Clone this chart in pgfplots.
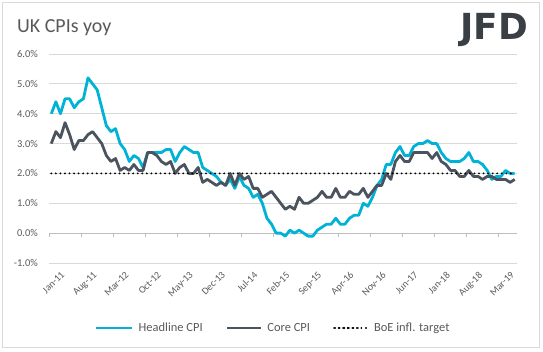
\documentclass[border=0pt]{standalone}
\usepackage{fontspec}
\setmainfont{Carlito}
\usepackage{pgfplots}
\pgfplotsset{compat=1.18}
\usepackage{pgfplotstable}
\definecolor{headc}{RGB}{0,178,214}
\definecolor{corec}{RGB}{74,83,94}
\definecolor{txt}{RGB}{89,89,89}
\definecolor{gridc}{RGB}{217,217,217}
\definecolor{logoc}{RGB}{58,63,70}
\pgfplotsset{
  legA/.style={legend image code/.code={\draw[##1] (0bp,0bp) -- (36bp,0bp);}},
  legB/.style={legend image code/.code={\draw[##1] (0bp,0bp) -- (34bp,0bp);}},
  legC/.style={legend image code/.code={\draw[##1] (1bp,0bp) -- (27bp,0bp); \path (0bp,0bp) -- (34bp,0bp);}},
}

\pgfplotstableread{
x h c
0 4.0 3.0
1 4.4 3.4
2 4.0 3.2
3 4.5 3.7
4 4.5 3.3
5 4.2 2.8
6 4.4 3.1
7 4.5 3.1
8 5.2 3.3
9 5.0 3.4
10 4.8 3.2
11 4.2 3.0
12 3.6 2.6
13 3.4 2.4
14 3.5 2.5
15 3.0 2.1
16 2.8 2.2
17 2.4 2.1
18 2.6 2.3
19 2.5 2.1
20 2.2 2.1
21 2.7 2.7
22 2.7 2.7
23 2.7 2.6
24 2.7 2.4
25 2.8 2.3
26 2.8 2.4
27 2.4 2.0
28 2.7 2.2
29 2.9 2.3
30 2.8 2.0
31 2.7 2.0
32 2.7 2.2
33 2.2 1.7
34 2.1 1.8
35 2.0 1.7
36 1.9 1.6
37 1.7 1.7
38 1.6 1.6
39 1.8 2.0
40 1.5 1.6
41 1.9 2.0
42 1.6 1.8
43 1.5 1.9
44 1.2 1.5
45 1.3 1.5
46 1.0 1.2
47 0.5 1.3
48 0.3 1.4
49 0.0 1.2
50 0.0 1.0
51 -0.1 0.8
52 0.1 0.9
53 0.0 0.8
54 0.1 1.2
55 0.0 1.0
56 -0.1 1.0
57 -0.1 1.1
58 0.1 1.2
59 0.2 1.4
60 0.3 1.2
61 0.3 1.2
62 0.5 1.5
63 0.3 1.2
64 0.3 1.2
65 0.5 1.4
66 0.6 1.3
67 0.6 1.3
68 1.0 1.5
69 0.9 1.2
70 1.2 1.4
71 1.6 1.6
72 1.8 1.6
73 2.3 2.0
74 2.3 1.8
75 2.7 2.4
76 2.9 2.6
77 2.6 2.4
78 2.6 2.4
79 2.9 2.7
80 3.0 2.7
81 3.0 2.7
82 3.1 2.7
83 3.0 2.5
84 3.0 2.7
85 2.7 2.4
86 2.5 2.3
87 2.4 2.1
88 2.4 2.1
89 2.4 1.9
90 2.5 1.9
91 2.7 2.1
92 2.4 1.9
93 2.4 1.9
94 2.3 1.8
95 2.1 1.9
96 1.8 1.9
97 1.9 1.8
98 1.9 1.8
99 2.1 1.8
100 2.0 1.7
101 2.0 1.8
}\cpi

\begin{document}
\begin{tikzpicture}
\begin{scope}[x=1bp,y=1bp]
\path[use as bounding box] (0,0) rectangle (543,351);
\draw[gridc, line width=0.75bp] (2.5,3.5) rectangle (539.5,348.5);
\node[anchor=base west, font=\fontsize{20}{24}\selectfont, text=txt, inner sep=0pt] at (17,319) {UK CPIs yoy};
\node[anchor=base west, font=\fontspec{DejaVu Sans}\bfseries\fontsize{36}{40}\selectfont, text=logoc, inner sep=0pt] at (460,312) {JFD};
\end{scope}
\begin{axis}[
  at={(49bp,88bp)}, anchor=south west,
  scale only axis, width=468bp, height=209bp,
  xmin=-0.5, xmax=101.5, ymin=-1, ymax=6,
  axis line style={draw=none},
  ytick={-1,0,1,2,3,4,5,6},
  yticklabels={-1.0\%,0.0\%,1.0\%,2.0\%,3.0\%,4.0\%,5.0\%,6.0\%},
  ymajorgrids, grid style={gridc, line width=0.75bp},
  major tick length=0pt,
  yticklabel style={font=\fontsize{10.5}{12}\selectfont, text=txt, anchor=east, inner sep=0pt, xshift=-11bp},
  xtick={0,7,...,98},
  xticklabels={Jan-11,Aug-11,Mar-12,Oct-12,May-13,Dec-13,Jul-14,Feb-15,Sep-15,Apr-16,Nov-16,Jun-17,Jan-18,Aug-18,Mar-19},
  xticklabel style={font=\fontsize{10}{12}\selectfont, text=txt, rotate=45, anchor=north east, inner sep=0pt, yshift=-12bp, xshift=1bp},
  clip=false,
  legend style={at={(0.479,-0.311)}, anchor=center, draw=none, fill=none,
    legend columns=3, font=\fontsize{12.5}{14}\selectfont, text=txt,
    /tikz/every odd column/.append style={column sep=3bp},
    /tikz/every even column/.append style={column sep=21bp},
    inner sep=0pt, row sep=0pt},
  legend cell align=left,
]
\draw[gridc!70!gray, line width=0.75bp] (axis cs:-0.5,0) -- (axis cs:101.5,0);
\pgfplotsinvokeforeach{-0.5,6.5,13.5,20.5,27.5,34.5,41.5,48.5,55.5,62.5,69.5,76.5,83.5,90.5,97.5}{
  \draw[gridc!70!gray, line width=0.75bp] (axis cs:#1,0) -- ++(0bp,-4bp);
}
\addplot[headc, line width=2.8bp, line join=round, mark=none, legA] table[x=x,y=h] {\cpi};
\addlegendentry{Headline CPI}
\addplot[corec, line width=2.8bp, line join=round, mark=none, legB] table[x=x,y=c] {\cpi};
\addlegendentry{Core CPI}
\addplot[black, line width=2.1bp, line cap=round, dash pattern=on 0pt off 4.55bp, mark=none, legC] coordinates {(0,2) (101,2)};
\addlegendentry{BoE infl. target}
\end{axis}
\end{tikzpicture}
\end{document}
